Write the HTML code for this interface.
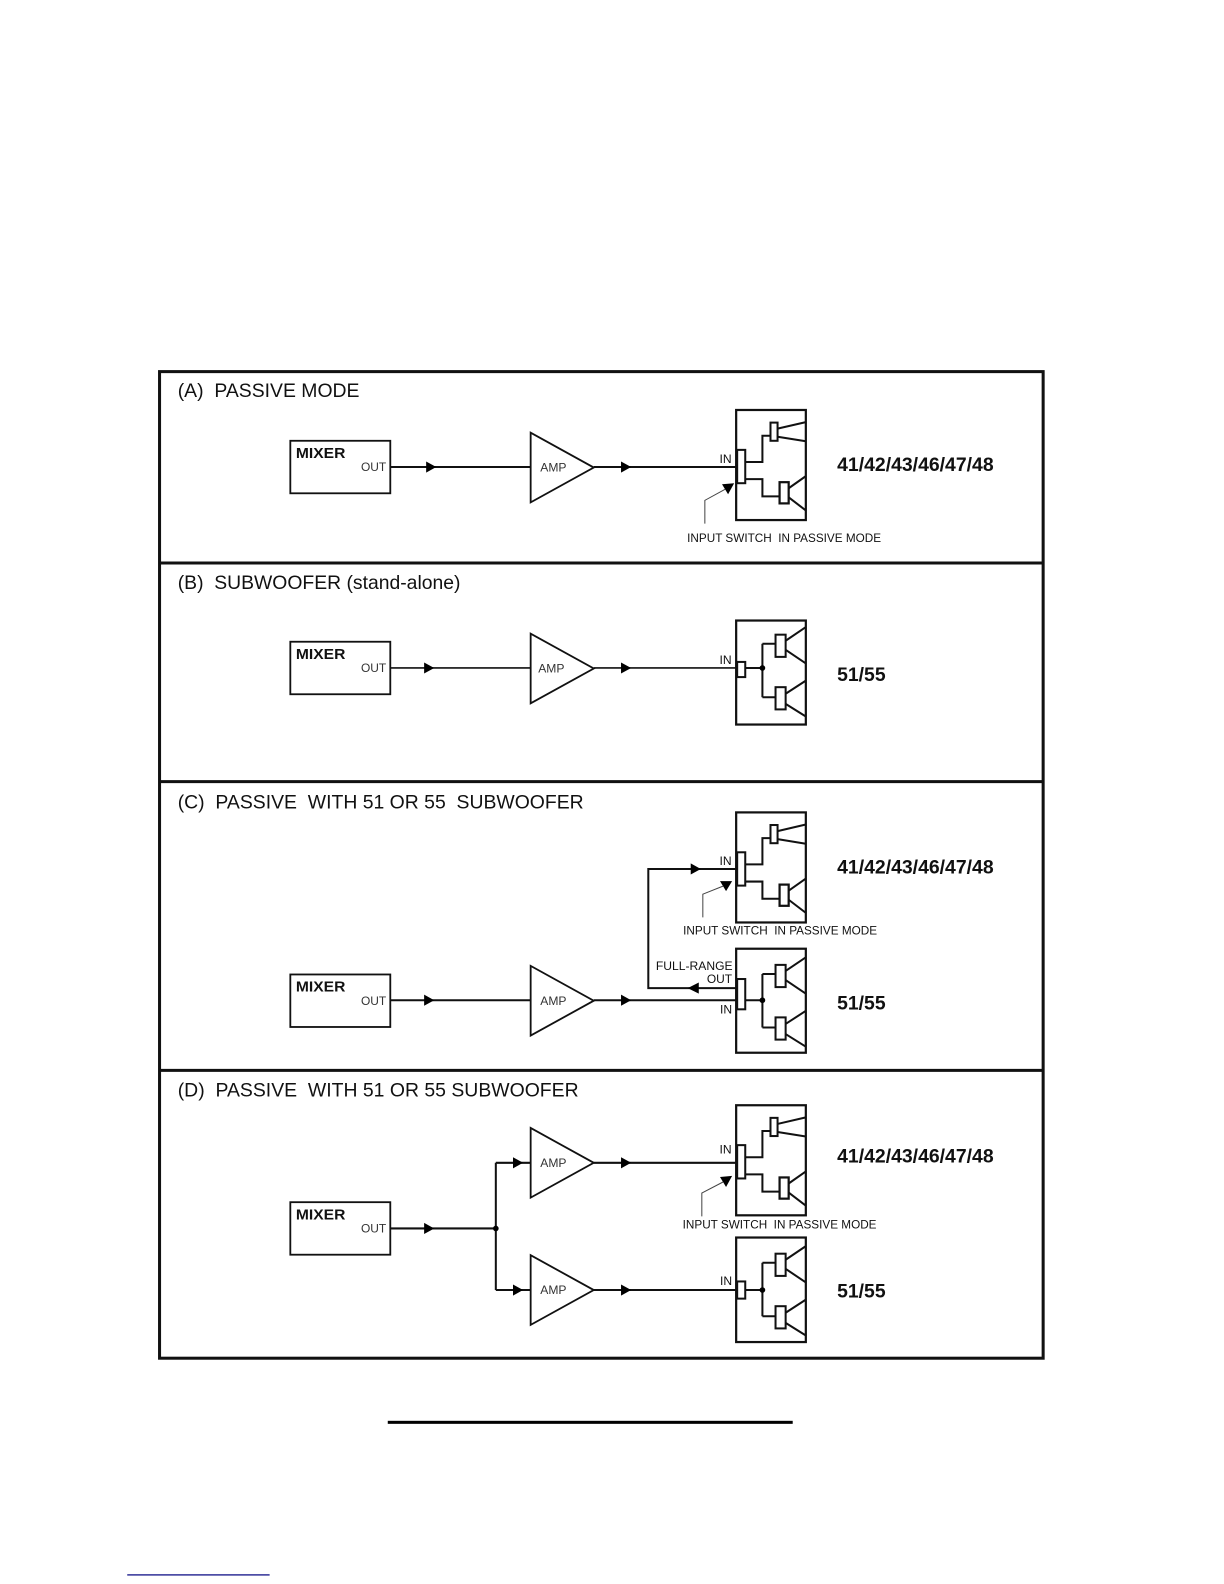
<!DOCTYPE html>
<html><head><meta charset="utf-8"><style>
html,body{margin:0;padding:0;background:#fff}
svg{display:block}
text{font-family:"Liberation Sans",sans-serif;fill:#111;white-space:pre}
.t{font-size:19.5px}
.b{font-size:19px;font-weight:bold}
.m{font-size:15px;font-weight:bold}
.s{font-size:11.5px;fill:#333}
.i{font-size:11.5px}
.w{fill:none;stroke:#111;stroke-width:2}
.n{fill:none;stroke:#222;stroke-width:1.8}
</style></head><body>
<svg width="1224" height="1584" viewBox="0 0 1212.1 1568.6" xmlns="http://www.w3.org/2000/svg">
<defs>
<g id="a">
<rect x="729" y="405.5" width="69" height="109" fill="#fff" stroke="#111" stroke-width="2.2"/>
<path class="w" d="M738 457H755V431H763M738 474H755V491H772M770 424L798 417.5M770 432L798 436.5M781 483L798 471M781 492L798 505"/>
<rect x="730" y="445" width="8" height="33" fill="#fff" stroke="#111" stroke-width="2"/>
<rect x="763" y="418" width="7" height="18" fill="#fff" stroke="#111" stroke-width="2"/>
<rect x="772" y="477" width="9" height="21" fill="#fff" stroke="#111" stroke-width="2.2"/>
</g>
<g id="u">
<path class="w" d="M755 637V690M755 637H768M755 690H768M778 634L798 620.5M778 643L798 656.5M778 686.5L798 673.5M778 696.5L798 709"/>
<rect x="768" y="628" width="10" height="22" fill="#fff" stroke="#111" stroke-width="2"/>
<rect x="768" y="680" width="10" height="22" fill="#fff" stroke="#111" stroke-width="2"/>
</g>
<g id="p"><path d="M0 -5.5L10 0L0 5.5Z" fill="#000"/></g>
<g id="mx">
<rect x="287.5" y="436" width="99" height="52" fill="#fff" stroke="#111" stroke-width="1.8"/>
<text x="293" y="453" class="m" textLength="49" lengthAdjust="spacingAndGlyphs">MIXER</text>
<text x="357.5" y="466" class="s" textLength="25" lengthAdjust="spacingAndGlyphs">OUT</text>
</g>
<path id="tri" d="M525.5 428L588 462.5L525.5 497Z" fill="#fff" stroke="#111" stroke-width="1.8"/>
<g id="am">
<use href="#tri"/>
<text x="535" y="466.5" class="s" textLength="26" lengthAdjust="spacingAndGlyphs">AMP</text>
</g>
</defs>
<g transform="translate(0,0.5)">
<!-- Frame -->
<rect x="158" y="367.5" width="875" height="977" fill="none" stroke="#111" stroke-width="3"/>
<path d="M158 557H1033M158 773.5H1033M158 1059.5H1033" stroke="#111" stroke-width="3" fill="none"/>

<!-- A -->
<text x="176" y="392.5" class="t" textLength="180" lengthAdjust="spacingAndGlyphs">(A)  PASSIVE MODE</text>
<use href="#mx"/>
<path class="w" d="M387 462H525M588 462H730"/>
<use href="#p" x="422" y="462"/><use href="#p" x="615" y="462"/>
<use href="#am"/>
<use href="#a"/>
<text x="712.5" y="458" class="i" textLength="12" lengthAdjust="spacingAndGlyphs">IN</text>
<path d="M698 518V495L718 484" fill="none" stroke="#444" stroke-width="1"/>
<path d="M715 479L727 478L721 489Z" fill="#000"/>
<text x="680.5" y="536" class="i" textLength="192" lengthAdjust="spacingAndGlyphs">INPUT SWITCH  IN PASSIVE MODE</text>
<text x="829" y="466" class="b" textLength="155" lengthAdjust="spacingAndGlyphs">41/42/43/46/47/48</text>

<!-- B -->
<text x="176" y="583" class="t" textLength="280" lengthAdjust="spacingAndGlyphs">(B)  SUBWOOFER (stand-alone)</text>
<use href="#mx" y="199"/>
<path class="w" d="M387 661H525M588 661H730" style="stroke-width:1.6"/>
<use href="#p" x="420" y="661"/><use href="#p" x="615" y="661"/>
<use href="#tri" y="199"/>
<text x="533" y="665.5" class="s" textLength="26" lengthAdjust="spacingAndGlyphs">AMP</text>
<rect x="729" y="614" width="69" height="103" fill="#fff" stroke="#111" stroke-width="2.2"/>
<path class="w" d="M738 661H755"/>
<use href="#u"/>
<rect x="730" y="655" width="8" height="15" fill="#fff" stroke="#111" stroke-width="2"/>
<circle cx="755" cy="661" r="2.8" fill="#000"/>
<text x="712.5" y="657" class="i" textLength="12" lengthAdjust="spacingAndGlyphs">IN</text>
<text x="829" y="674" class="b" textLength="48" lengthAdjust="spacingAndGlyphs">51/55</text>

<!-- C -->
<text x="176" y="800" class="t" textLength="402" lengthAdjust="spacingAndGlyphs">(C)  PASSIVE  WITH 51 OR 55  SUBWOOFER</text>
<use href="#mx" y="528.5"/>
<path class="w" d="M387 990H525M588 990H730M730 978H642V860H730"/>
<use href="#p" x="420" y="990"/><use href="#p" x="615" y="990"/><use href="#p" x="684" y="860"/>
<path d="M692 972.5L681 978L692 983.5Z" fill="#000"/>
<use href="#am" y="528"/>
<use href="#a" y="398.5"/>
<text x="712.5" y="856" class="i" textLength="12" lengthAdjust="spacingAndGlyphs">IN</text>
<path d="M696 908V885L716 877" fill="none" stroke="#444" stroke-width="1"/>
<path d="M713 872L725 872L719 882Z" fill="#000"/>
<text x="676.5" y="925" class="i" textLength="192" lengthAdjust="spacingAndGlyphs">INPUT SWITCH  IN PASSIVE MODE</text>
<text x="829" y="864.5" class="b" textLength="155" lengthAdjust="spacingAndGlyphs">41/42/43/46/47/48</text>
<rect x="729" y="939" width="69" height="103" fill="#fff" stroke="#111" stroke-width="2.2"/>
<path class="w" d="M738 990H755"/>
<use href="#u" y="327"/>
<rect x="730" y="969" width="8" height="30" fill="#fff" stroke="#111" stroke-width="2"/>
<circle cx="755" cy="990" r="2.8" fill="#000"/>
<text x="649.5" y="960" class="i" textLength="76" lengthAdjust="spacingAndGlyphs">FULL-RANGE</text>
<text x="700" y="973" class="i" textLength="25" lengthAdjust="spacingAndGlyphs">OUT</text>
<text x="713" y="1003" class="i" textLength="12" lengthAdjust="spacingAndGlyphs">IN</text>
<text x="829" y="999" class="b" textLength="48" lengthAdjust="spacingAndGlyphs">51/55</text>

<!-- D -->
<text x="176" y="1085.5" class="t" textLength="397" lengthAdjust="spacingAndGlyphs">(D)  PASSIVE  WITH 51 OR 55 SUBWOOFER</text>
<use href="#mx" y="754"/>
<path class="w" d="M387 1216H491M491 1151V1277M491 1151H525M491 1277H525M588 1151H730M588 1277H730"/>
<circle cx="491" cy="1216" r="2.8" fill="#000"/>
<use href="#p" x="420" y="1216"/><use href="#p" x="508" y="1151"/><use href="#p" x="508" y="1277"/><use href="#p" x="615" y="1151"/><use href="#p" x="615" y="1277"/>
<use href="#am" y="688.5"/>
<use href="#am" y="814.5"/>
<use href="#a" y="688.5"/>
<text x="712.5" y="1142" class="i" textLength="12" lengthAdjust="spacingAndGlyphs">IN</text>
<path d="M695 1204V1181L716 1170" fill="none" stroke="#444" stroke-width="1"/>
<path d="M713 1165L725 1164L719 1175Z" fill="#000"/>
<text x="676" y="1216" class="i" textLength="192" lengthAdjust="spacingAndGlyphs">INPUT SWITCH  IN PASSIVE MODE</text>
<text x="829" y="1150.5" class="b" textLength="155" lengthAdjust="spacingAndGlyphs">41/42/43/46/47/48</text>
<rect x="729" y="1225" width="69" height="103.5" fill="#fff" stroke="#111" stroke-width="2.2"/>
<path class="w" d="M738 1277H755"/>
<use href="#u" y="613"/>
<rect x="730" y="1268.5" width="8" height="17" fill="#fff" stroke="#111" stroke-width="2"/>
<circle cx="755" cy="1277" r="2.8" fill="#000"/>
<text x="713" y="1272" class="i" textLength="12" lengthAdjust="spacingAndGlyphs">IN</text>
<text x="829" y="1284.5" class="b" textLength="48" lengthAdjust="spacingAndGlyphs">51/55</text>

<!-- bottom rules -->
<rect x="384" y="1406.5" width="401" height="3" fill="#000"/>
<rect x="126" y="1558.5" width="141" height="1.2" fill="#00007f"/>
</g>
</svg>
</body></html>
